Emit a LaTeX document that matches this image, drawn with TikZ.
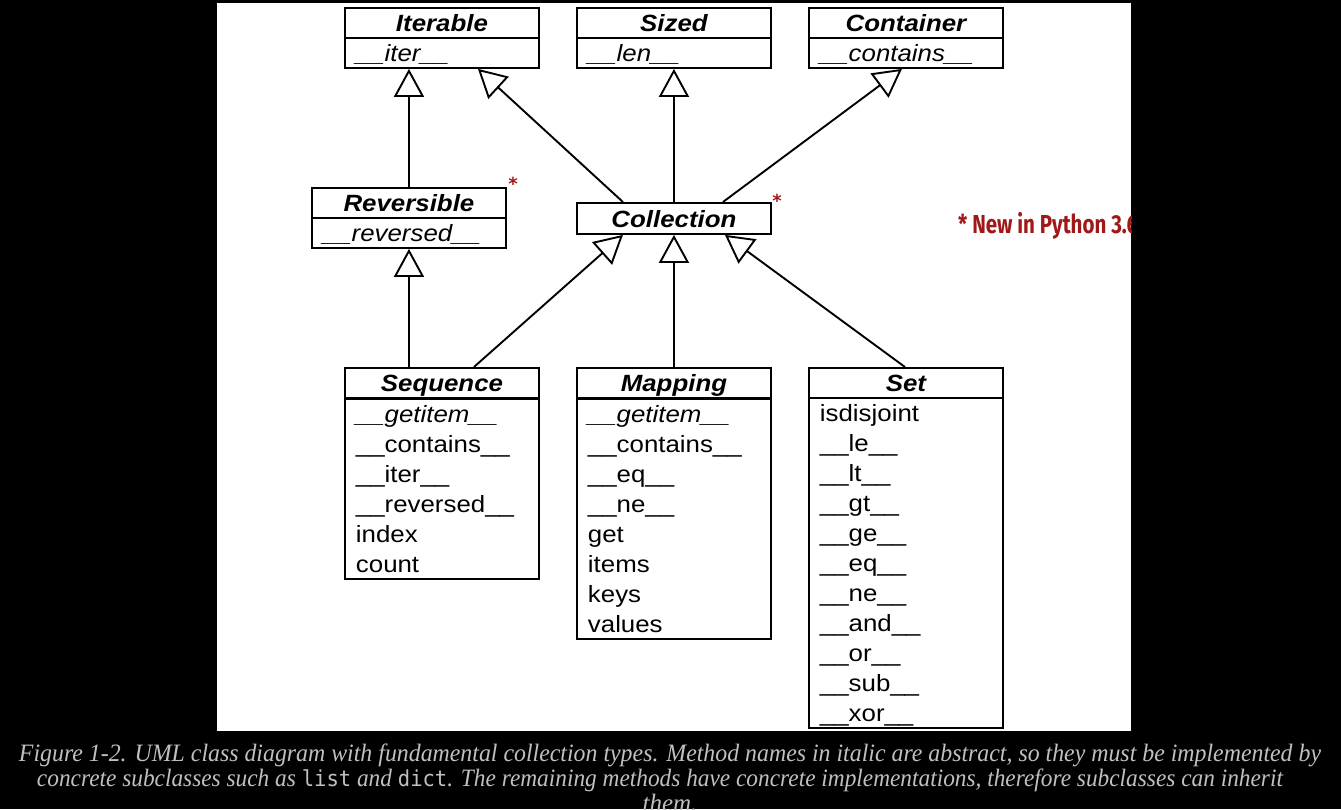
\documentclass[tikz,border=0pt]{standalone}
\usepackage{fontspec}
\usepackage{graphicx}
\setmainfont{Liberation Serif}
\newfontfamily\umlf[FakeStretch=1.1]{Liberation Sans}
\newfontfamily\notef{Fira Sans}
\newfontfamily\starf{DejaVu Sans}
\newfontfamily\capmono{DejaVu Sans Mono}
\usetikzlibrary{arrows.meta}
\definecolor{notered}{RGB}{160,24,24}
\definecolor{capgray}{RGB}{192,192,192}
\newcommand{\ml}[1]{\rule[-6.3pt]{0pt}{30pt}{#1}}
\begin{document}
\begin{tikzpicture}[x=1pt,y=-1pt,
  cls/.style={draw, line width=1.9pt, minimum width=194pt, minimum height=30pt, inner sep=0pt,
    font=\umlf\fontsize{23.5}{30}\selectfont\bfseries\itshape, text height=22pt, text depth=4pt, anchor=north west},
  meth/.style={draw, line width=1.9pt, text width=172pt, inner xsep=11pt, inner ysep=0pt, align=left,
    font=\umlf\fontsize{23.5}{30}\selectfont, anchor=north west},
  inh/.style={line width=1.9pt, -{Triangle[open, length=28pt, width=30pt, line width=1.9pt]}},
  redstar/.style={text=notered, font=\starf\bfseries\fontsize{18}{18}\selectfont, inner sep=0pt},
  captext/.style={text=capgray, anchor=base, inner sep=0pt}
]
\useasboundingbox (0,0) rectangle (1341,809);
\fill[black] (0,0) rectangle (1341,809);
\fill[white] (217,3) rectangle (1131,731);

\begin{scope}
\clip (217,3) rectangle (1131,731);
% top row
\node[cls] (iter) at (344,7) {Iterable};
\node[meth] (iterm) at (344,37) {\ml{\itshape\_\_iter\_\_}};
\node[cls] (sized) at (576,7) {Sized};
\node[meth] (sizedm) at (576,37) {\ml{\itshape\_\_len\_\_}};
\node[cls] (cont) at (808,7) {Container};
\node[meth] (contm) at (808,37) {\ml{\itshape\_\_contains\_\_}};
% middle row
\node[cls] (rev) at (311,187) {Reversible};
\node[meth] (revm) at (311,217) {\ml{\itshape\_\_reversed\_\_}};
\node[cls, minimum height=31pt] (coll) at (576,202) {Collection};
% bottom row
\node[cls] (seq) at (344,367) {Sequence};
\node[meth] (seqm) at (344,398) {\ml{\itshape\_\_getitem\_\_}\\ \ml{\_\_contains\_\_}\\ \ml{\_\_iter\_\_}\\ \ml{\_\_reversed\_\_}\\ \ml{index}\\ \ml{count}};
\node[cls] (map) at (576,367) {Mapping};
\node[meth] (mapm) at (576,398) {\ml{\itshape\_\_getitem\_\_}\\ \ml{\_\_contains\_\_}\\ \ml{\_\_eq\_\_}\\ \ml{\_\_ne\_\_}\\ \ml{get}\\ \ml{items}\\ \ml{keys}\\ \ml{values}};
\node[cls] (set) at (808,367) {Set};
\node[meth] (setm) at (808,397) {\ml{isdisjoint}\\ \ml{\_\_le\_\_}\\ \ml{\_\_lt\_\_}\\ \ml{\_\_gt\_\_}\\ \ml{\_\_ge\_\_}\\ \ml{\_\_eq\_\_}\\ \ml{\_\_ne\_\_}\\ \ml{\_\_and\_\_}\\ \ml{\_\_or\_\_}\\ \ml{\_\_sub\_\_}\\ \ml{\_\_xor\_\_}};
% stars and note
\node[redstar] (star1) at (513,184) {*};
\node[redstar] (star2) at (777,201) {*};
\node[anchor=west, inner sep=0pt, text=notered] (note) at (958,226)
  {\resizebox{180pt}{\height}{\notef\bfseries\fontsize{26}{28}\selectfont * New in Python 3.6}};
\end{scope}

% inheritance arrows
\draw[inh] (rev.north) -- (rev.north |- iterm.south);
\draw[inh] ([xshift=-51pt]coll.north) -- ([xshift=36pt]iterm.south);
\draw[inh] (coll.north) -- (coll.north |- sizedm.south);
\draw[inh] ([xshift=49pt]coll.north) -- ([xshift=-4pt]contm.south);
\draw[inh] (seq.north -| revm.south) -- (revm.south);
\draw[inh] ([xshift=32pt]seq.north) -- ([xshift=-51pt]coll.south);
\draw[inh] (map.north) -- (coll.south);
\draw[inh] ([xshift=-1pt]set.north) -- ([xshift=51pt]coll.south);

% caption
\node[captext] (cap1) at (670,761.5) {\resizebox{1302pt}{\height}{\itshape\fontsize{25}{28}\selectfont Figure 1-2. UML class diagram with fundamental collection types. Method names in italic are abstract, so they must be implemented by}};
\node[captext] (cap2) at (660,786) {\resizebox{1246pt}{\height}{\itshape\fontsize{25}{28}\selectfont concrete subclasses such as {\upshape\capmono\fontsize{22}{28}\selectfont list} and {\upshape\capmono\fontsize{22}{28}\selectfont dict}. The remaining methods have concrete implementations, therefore subclasses can inherit}};
\node[captext] (cap3) at (670,811) {\itshape\fontsize{25}{28}\selectfont them.};
\end{tikzpicture}
\end{document}
